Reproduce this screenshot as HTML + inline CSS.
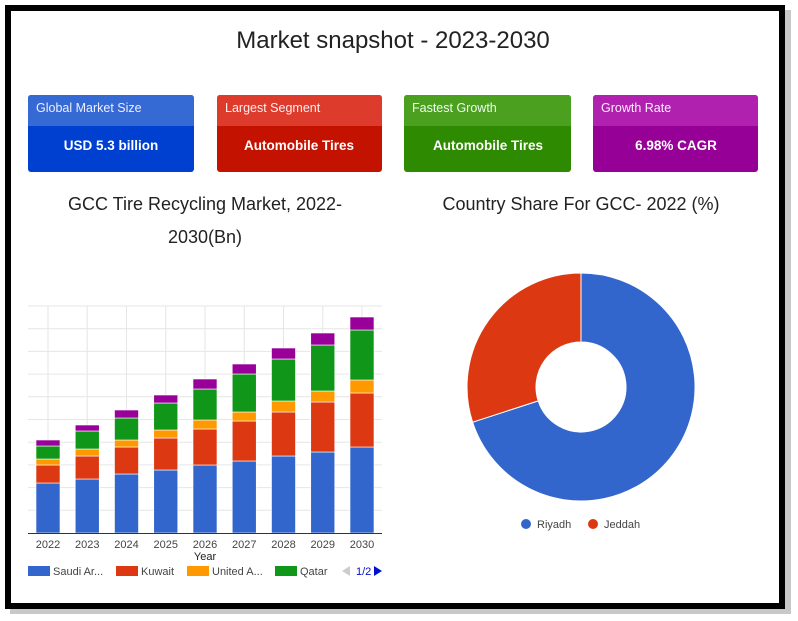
<!DOCTYPE html>
<html><head><meta charset="utf-8"><style>
html,body{margin:0;padding:0;background:#fff;}
body{width:798px;height:621px;position:relative;overflow:hidden;font-family:"Liberation Sans",sans-serif;}
</style></head><body>
<svg id="s" width="798" height="621" xmlns="http://www.w3.org/2000/svg" style="position:absolute;left:0;top:0">
<rect x="10" y="10" width="781" height="604" fill="#c8c8c8"/>
<rect x="8" y="8" width="774" height="598" fill="#fff" stroke="#000" stroke-width="6"/>
<text x="393" y="48" font-size="24" text-anchor="middle" fill="#222">Market snapshot - 2023-2030</text>

<g font-size="12.5">
<rect x="28" y="95" width="166" height="77" rx="3" fill="#0040d0"/><path d="M31 95h160a3 3 0 0 1 3 3v28H28V98a3 3 0 0 1 3-3z" fill="#3569d4"/>
<text x="36" y="112" fill="#eef">Global Market Size</text>
<text x="111" y="150" fill="#fff" font-size="13.5" text-anchor="middle" font-weight="bold">USD 5.3 billion</text>
<rect x="217" y="95" width="165" height="77" rx="3" fill="#c41200"/><path d="M220 95h159a3 3 0 0 1 3 3v28H217V98a3 3 0 0 1 3-3z" fill="#dd3b2c"/>
<text x="225" y="112" fill="#fee">Largest Segment</text>
<text x="299" y="150" fill="#fff" font-size="13.5" text-anchor="middle" font-weight="bold">Automobile Tires</text>
<rect x="404" y="95" width="167" height="77" rx="3" fill="#2e8a00"/><path d="M407 95h161a3 3 0 0 1 3 3v28H404V98a3 3 0 0 1 3-3z" fill="#4ba11f"/>
<text x="412" y="112" fill="#efe">Fastest Growth</text>
<text x="488" y="150" fill="#fff" font-size="13.5" text-anchor="middle" font-weight="bold">Automobile Tires</text>
<rect x="593" y="95" width="165" height="77" rx="3" fill="#960096"/><path d="M596 95h159a3 3 0 0 1 3 3v28H593V98a3 3 0 0 1 3-3z" fill="#b021b0"/>
<text x="601" y="112" fill="#fef">Growth Rate</text>
<text x="676" y="150" fill="#fff" font-size="13.5" text-anchor="middle" font-weight="bold">6.98% CAGR</text>
</g>

<text x="205" y="210" font-size="18" text-anchor="middle" fill="#222">GCC Tire Recycling Market, 2022-</text>
<text x="205" y="243" font-size="18" text-anchor="middle" fill="#222">2030(Bn)</text>
<text x="581" y="210" font-size="18" text-anchor="middle" fill="#222">Country Share For GCC- 2022 (%)</text>

<g id="grid" stroke="#e6e6e6" stroke-width="1"></g>
<g id="bars"></g>
<line x1="28" y1="533.5" x2="382" y2="533.5" stroke="#333" stroke-width="1"/>
<g id="xl" font-size="11" fill="#444" text-anchor="middle"></g>
<text x="205" y="560" font-size="11" fill="#222" text-anchor="middle">Year</text>
<g font-size="11" fill="#444">
<rect x="28" y="566" width="22" height="10" fill="#3366cc"/><text x="53" y="575">Saudi Ar...</text>
<rect x="116" y="566" width="22" height="10" fill="#dc3912"/><text x="141" y="575">Kuwait</text>
<rect x="187" y="566" width="22" height="10" fill="#ff9900"/><text x="212" y="575">United A...</text>
<rect x="275" y="566" width="22" height="10" fill="#109618"/><text x="300" y="575">Qatar</text>
<path d="M350 566l-8 5 8 5z" fill="#ccc"/><text x="356" y="575" fill="#0011cc">1/2</text>
<path d="M374 566l8 5-8 5z" fill="#0011cc"/>
</g>

<path d="M581 273 A114 114 0 1 1 472.6 422.2 L538.2 400.9 A45 45 0 1 0 581 342 Z" fill="#3366cc" stroke="#fff" stroke-width="1"/>
<path d="M472.6 422.2 A114 114 0 0 1 581 273 L581 342 A45 45 0 0 0 538.2 400.9 Z" fill="#dc3912" stroke="#fff" stroke-width="1"/>
<circle cx="526" cy="524" r="5" fill="#3366cc"/><text x="537" y="528" font-size="11" fill="#444">Riyadh</text>
<circle cx="593" cy="524" r="5" fill="#dc3912"/><text x="604" y="528" font-size="11" fill="#444">Jeddah</text>
</svg>
<script>
var ns="http://www.w3.org/2000/svg";
function el(p,t,a){var e=document.createElementNS(ns,t);for(var k in a)e.setAttribute(k,a[k]);p.appendChild(e);return e;}
var g=document.getElementById('grid'),b=document.getElementById('bars'),xl=document.getElementById('xl');
for(var i=0;i<10;i++){var y=306+i*22.7;el(g,'line',{x1:28,x2:382,y1:y,y2:y});}
var tops=[[483,465,459,446,440],[479,456,449,431,425],[474,447,440,418,410],[470,438,430,403,395],[465,429,420,389,379],[461,421,412,374,364],[456,412,401,359,348],[452,402,391,345,333],[447,393,380,330,317]];
var cols=['#3366cc','#dc3912','#ff9900','#109618','#990099'];
for(var i=0;i<9;i++){var c=48+i*39.25;el(g,'line',{x1:c,x2:c,y1:306,y2:533});
var prev=533;for(var j=0;j<5;j++){var t=tops[i][j];el(b,'rect',{x:c-12,y:t,width:24,height:prev-t,fill:cols[j],stroke:'#fff','stroke-width':0.6});prev=t;}
var tx=el(xl,'text',{x:c,y:548});tx.textContent=2022+i;}
</script>
</body></html>
